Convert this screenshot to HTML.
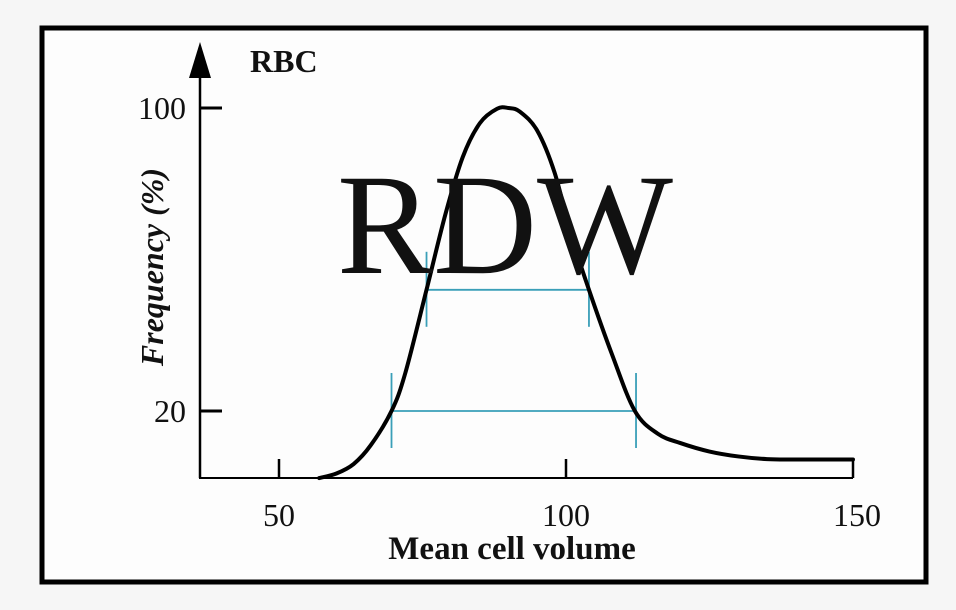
<!DOCTYPE html>
<html><head><meta charset="utf-8"><style>
html,body{margin:0;padding:0;background:#f6f6f6;}
svg{display:block}
text{font-family:"Liberation Serif",serif;fill:#111}
</style></head><body>
<svg width="956" height="610" viewBox="0 0 956 610">
<rect x="42" y="28" width="884" height="554" fill="#fdfdfd" stroke="#000" stroke-width="5"/>
<g id="axes"></g>
<g id="marks"></g>
<text x="250" y="72" font-size="32" font-weight="bold">RBC</text>
<text x="337" y="273" font-size="144">RDW</text>
<text transform="translate(163,267) rotate(-90)" text-anchor="middle" font-size="32" font-weight="bold" font-style="italic">Frequency (%)</text>
<text x="512" y="559" text-anchor="middle" font-size="33" font-weight="bold">Mean cell volume</text>
</svg>
<script>
const xTicks=[50,100,150];
const yTicks=[20,100];
const curveX=[57,60,63,66,69.6,72,75.7,79,82,85,88,90,92,95,98,101,104,108,112,116,120,125,130,135,140,150];
const curveY=[2.3,3.5,6,11,20,30,52,72,87,96,99.8,100,99,94,83,66,52,35,20,14,11.5,9.3,8,7.3,7.2,7.2];
const rdwLevels=[20,52];
const rdwLeft=[69.6,75.7];
const rdwRight=[112.2,104];
</script>
<script>
const NS="http://www.w3.org/2000/svg";
function sx(v){return 279+(v-50)*5.74;}
function sy(v){return 411-(v-20)*3.7875;}
function mk(t,a,p){const e=document.createElementNS(NS,t);for(const k in a)e.setAttribute(k,a[k]);p.appendChild(e);return e;}
const axes=document.getElementById('axes'),marks=document.getElementById('marks');
let e=mk('line',{x1:200,y1:478,x2:200,y2:70,stroke:'#000','stroke-width':2.5},axes);


e=mk('polygon',{points:'200,42 189,78 211,78',fill:'#000'},axes);


e=mk('line',{x1:199,y1:478,x2:sx(150),y2:478,stroke:'#000','stroke-width':2},axes);


yTicks.forEach(v=>{
  let t=mk('line',{x1:200,y1:sy(v),x2:222,y2:sy(v),stroke:'#000','stroke-width':3},axes);
  
  
  let l=mk('text',{x:186,y:sy(v)+11,'text-anchor':'end','font-size':32},axes);
  l.textContent=v;
  
  
});
xTicks.forEach(v=>{
  let t=mk('line',{x1:sx(v),y1:478,x2:sx(v),y2:459,stroke:'#000','stroke-width':2.5},axes);
  
  
  let l=mk('text',{x:sx(v)+(v==150?4:0),y:526,'text-anchor':'middle','font-size':32},axes);
  l.textContent=v;
  
  
});
const pts=curveX.map((x,i)=>[sx(x),sy(curveY[i])]);
let d='M'+pts[0][0]+','+pts[0][1];
for(let i=0;i<pts.length-1;i++){
  const p0=pts[Math.max(0,i-1)],p1=pts[i],p2=pts[i+1],p3=pts[Math.min(pts.length-1,i+2)];
  const c1=[p1[0]+(p2[0]-p0[0])/6,p1[1]+(p2[1]-p0[1])/6];
  const c2=[p2[0]-(p3[0]-p1[0])/6,p2[1]-(p3[1]-p1[1])/6];
  d+=' C'+c1+' '+c2+' '+p2;
}
rdwLevels.forEach((lv,i)=>{
  const y=sy(lv),x1=sx(rdwLeft[i]),x2=sx(rdwRight[i]);
  let h=mk('line',{x1:x1,y1:y,x2:x2,y2:y,stroke:'#3a9fb8','stroke-width':1.8},marks);
  
  
  [x1,x2].forEach((x,j)=>{
    let v=mk('line',{x1:x,y1:y-38,x2:x,y2:y+37,stroke:'#3a9fb8','stroke-width':1.8},marks);
    
    
  });
});
e=mk('path',{d:d,fill:'none',stroke:'#000','stroke-width':4,'stroke-linecap':'round'},marks);


</script>
</body></html>
